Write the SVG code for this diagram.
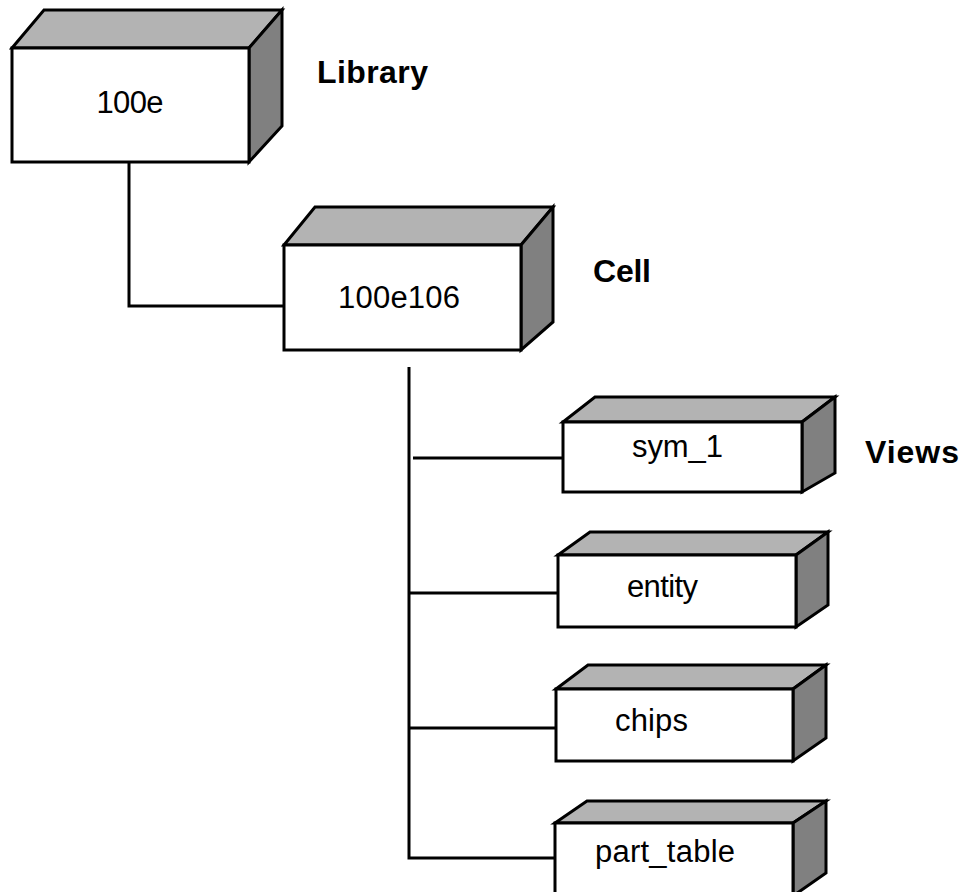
<svg xmlns="http://www.w3.org/2000/svg" width="961" height="892" viewBox="0 0 961 892">
<style>
.front{fill:#ffffff;stroke:#000;stroke-width:3;stroke-linejoin:miter}
.top{fill:#b3b3b3;stroke:#000;stroke-width:3;stroke-linejoin:miter}
.side{fill:#808080;stroke:#000;stroke-width:3;stroke-linejoin:miter}
.conn{fill:none;stroke:#000;stroke-width:3}
.lbl{font-family:"Liberation Sans",Arial,sans-serif;font-size:31px;fill:#000}
.hdr{font-family:"Liberation Sans",Arial,sans-serif;font-size:32px;font-weight:bold;fill:#000}
</style>
<rect width="961" height="892" fill="#fff"/>
<g id="connectors">
<path class="conn" d="M129,159 V306 H287"/>
<path class="conn" d="M409,367 V858 H555"/>
<path class="conn" d="M413,458 H563"/>
<path class="conn" d="M409,593 H558"/>
<path class="conn" d="M409,728 H556"/>
</g>
<g id="lib">
<polygon class="top" points="12,48 44,10 282,10 249,48"/>
<polygon class="side" points="249,48 282,10 282,126 249,162"/>
<rect class="front" x="12" y="48" width="237" height="114"/>
<text class="lbl" x="130" y="113" text-anchor="middle" textLength="67">100e</text>
</g>
<g id="cell">
<polygon class="top" points="284,245 315,207 553,207 521,245"/>
<polygon class="side" points="521,245 553,207 553,322 521,350"/>
<rect class="front" x="284" y="245" width="237" height="105"/>
<text class="lbl" x="338" y="308" textLength="122">100e106</text>
</g>
<g id="sym1">
<polygon class="top" points="563,422 595,397 835,397 802,422"/>
<polygon class="side" points="802,422 835,397 835,473 802,492"/>
<rect class="front" x="563" y="422" width="239" height="70"/>
<text class="lbl" x="632" y="457" textLength="91">sym_1</text>
</g>
<g id="entity">
<polygon class="top" points="558,555 590,532 828,532 796,555"/>
<polygon class="side" points="796,555 828,532 828,605 796,627"/>
<rect class="front" x="558" y="555" width="238" height="72"/>
<text class="lbl" x="627" y="597" textLength="71">entity</text>
</g>
<g id="chips">
<polygon class="top" points="556,689 588,665 826,665 793,689"/>
<polygon class="side" points="793,689 826,665 826,738 793,761"/>
<rect class="front" x="556" y="689" width="237" height="72"/>
<text class="lbl" x="615" y="731" textLength="73">chips</text>
</g>
<g id="parttable">
<polygon class="top" points="555,823 587,801 826,801 793,823"/>
<polygon class="side" points="793,823 826,801 826,873 793,896"/>
<rect class="front" x="555" y="823" width="238" height="73"/>
<text class="lbl" x="595" y="862" textLength="140">part_table</text>
</g>
<g id="labels">
<text class="hdr" x="317" y="83" textLength="111">Library</text>
<text class="hdr" x="593" y="282" textLength="58">Cell</text>
<text class="hdr" x="865" y="463" textLength="94">Views</text>
</g>
</svg>
